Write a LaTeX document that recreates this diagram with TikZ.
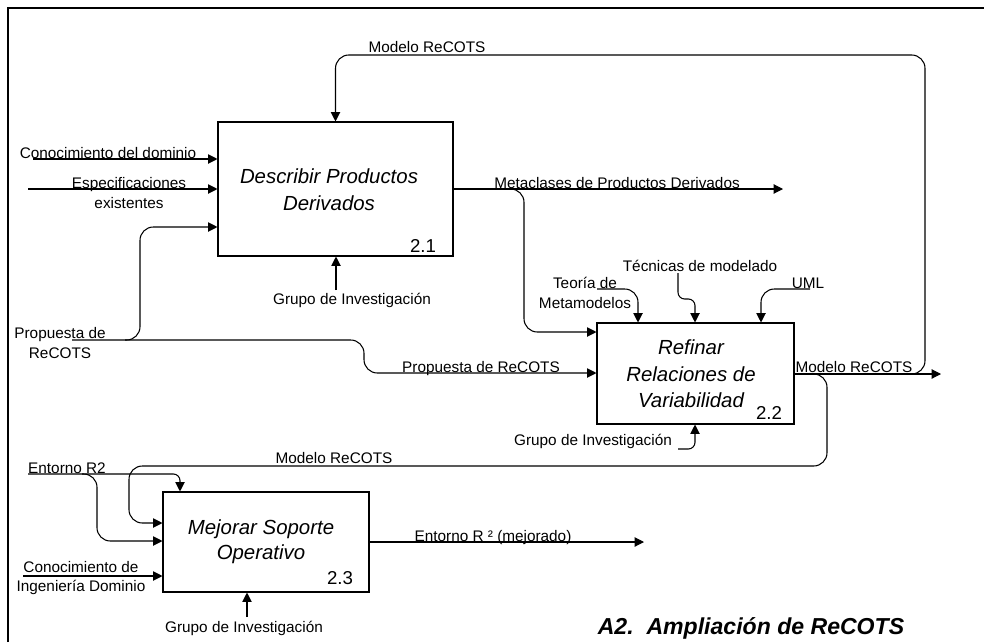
\documentclass[tikz,border=0pt]{standalone}
\usepackage{fontspec}
\setmainfont{Liberation Sans}
\usetikzlibrary{arrows.meta}
\begin{document}
\begin{tikzpicture}[x=0.75pt,y=-0.75pt,
 lbl/.style={font=\fontsize{11.5}{14.5}\selectfont, inner sep=0pt, align=center},
 procbox/.style={draw, line width=0.8pt, inner sep=0pt},
 proctext/.style={font=\fontsize{15.3}{20}\selectfont\itshape, align=center, inner sep=0pt},
 num/.style={font=\fontsize{14}{16}\selectfont, inner sep=0pt},
 ttl/.style={font=\fontsize{17.3}{20}\selectfont\bfseries\itshape, inner sep=0pt},
 frame/.style={line width=1.1pt},
 flow/.style={line width=0.8pt, rounded corners=10pt},
 flowsmall/.style={line width=0.8pt, rounded corners=5pt},
 arr/.style={-{Triangle[length=7pt,width=7pt]}},
]
\useasboundingbox (0,0) rectangle (984,642);
\draw[frame] (8,642) -- (8,8) -- (984,8);

% boxes
\node[procbox, minimum width=176.25pt, minimum height=100.5pt] (b21) at (335.5,189) {};
\node[proctext] (t21) at (329,190) {Describir Productos\\Derivados};
\node[num] (n21) at (423,246) {2.1};

\node[procbox, minimum width=147.75pt, minimum height=75.75pt] (b22) at (695.5,373.5) {};
\node[proctext] (t22) at (691,374) {Refinar\\Relaciones de\\Variabilidad};
\node[num] (n22) at (769,413) {2.2};

\node[procbox, minimum width=154.5pt, minimum height=75pt] (b23) at (266,542) {};
\node[proctext, font=\fontsize{15.3}{19}\selectfont\itshape] (t23) at (261,542) {Mejorar Soporte\\Operativo};
\node[num] (n23) at (340,578) {2.3};

% labels
\node[lbl, anchor=base] (lConDom) at (108,158) {Conocimiento del dominio};
\node[lbl] (lEsp) at (129,193) {Especificaciones\\existentes};
\node[lbl] (lProp) at (60,343) {Propuesta de\\ReCOTS};
\node[lbl] (lGrupo1) at (352,300) {Grupo de Investigación};
\node[lbl, anchor=base] (lMod1) at (427,53) {Modelo ReCOTS};
\node[lbl, anchor=base] (lMeta) at (617,188) {Metaclases de Productos Derivados};
\node[lbl] (lTeo) at (585,293) {Teoría de\\Metamodelos};
\node[lbl] (lTec) at (700,266) {Técnicas de modelado};
\node[lbl] (lUML) at (808,283) {UML};
\node[lbl, anchor=base] (lProp2) at (481,372) {Propuesta de ReCOTS};
\node[lbl] (lGrupo2) at (593,441) {Grupo de Investigación};
\node[lbl, anchor=base] (lMod2) at (854,372) {Modelo ReCOTS};
\node[lbl, anchor=base] (lMod3) at (334,463) {Modelo ReCOTS};
\node[lbl, anchor=base] (lEnt) at (67,473) {Entorno R2};
\node[lbl] (lConIng) at (81,578) {Conocimiento de\\Ingeniería Dominio};
\node[lbl] (lGrupo3) at (244,628) {Grupo de Investigación};
\node[lbl, anchor=base] (lEntOut) at (493,541) {Entorno R ² (mejorado)};
\node[ttl] (title) at (751,628) {A2.\ \ Ampliación de ReCOTS};

% connectors into 2.1
\coordinate (sCD) at (33,159);
\draw[flow,arr] (sCD) -- (sCD -| b21.west);
\coordinate (sEsp) at (28,189);
\draw[flow,arr] (sEsp) -- (sEsp -| b21.west);
\coordinate (sProp) at (72,340);
\coordinate (kProp) at (364,373);
\draw[flow,arr] (sProp) -| (kProp) -- (kProp -| b22.west);
\coordinate (jProp) at (125,340);
\coordinate (kProp2) at (140,227);
\draw[flow,arr] (jProp) -| (kProp2) -- (kProp2 -| b21.west);
\coordinate (gr1) at (336,290);
\draw[flow,arr] (gr1) -- (gr1 |- b21.south);

% outputs of 2.1
\coordinate (eMeta) at (783,189);
\draw[flow,arr] (b21.east |- eMeta) -- (eMeta);
\coordinate (jMeta) at (508,189);
\coordinate (kMeta) at (524,332);
\draw[flow,arr] (jMeta) -| (kMeta) -- (kMeta -| b22.west);

% controls of 2.2
\coordinate (sTeo) at (597,289);
\coordinate (kTeo) at (638,289);
\draw[flow,arr] (sTeo) -- (kTeo) -- (kTeo |- b22.north);
\coordinate (sTec) at (678,273);
\coordinate (kTec) at (695,299);
\draw[flowsmall,arr] (sTec) |- (kTec) -- (kTec |- b22.north);
\coordinate (sUML) at (810,289);
\coordinate (kUML) at (761,289);
\draw[flow,arr] (sUML) -- (kUML) -- (kUML |- b22.north);
\coordinate (sGr2) at (678,449);
\coordinate (kGr2) at (695,449);
\draw[flowsmall,arr] (sGr2) -- (kGr2) -- (kGr2 |- b22.south);

% outputs of 2.2
\coordinate (eMod) at (941,374);
\draw[flow,arr] (b22.east |- eMod) -- (eMod);
\coordinate (jMod1) at (911,374);
\coordinate (kMod1) at (925,55);
\draw[flow,arr] (jMod1) -| (kMod1) -| (b21.north);
\coordinate (jMod2) at (811,374);
\coordinate (kMod2) at (827,466);
\coordinate (kMod3) at (129,523);
\draw[flow,arr] (jMod2) -| (kMod2) -| (kMod3) -- (kMod3 -| b23.west);

% inputs of 2.3
\coordinate (sEnt) at (28,474);
\coordinate (kEnt) at (180,474);
\draw[flowsmall,arr] (sEnt) -- (kEnt) -- (kEnt |- b23.north);
\coordinate (jEnt) at (82,474);
\coordinate (kEnt2) at (97,541);
\draw[flow,arr] (jEnt) -| (kEnt2) -- (kEnt2 -| b23.west);
\coordinate (sCI) at (23,576);
\draw[flow,arr] (sCI) -- (sCI -| b23.west);
\coordinate (gr3) at (247,617);
\draw[flow,arr] (gr3) -- (gr3 |- b23.south);

% output of 2.3
\coordinate (eEnt) at (644,542);
\draw[flow,arr] (b23.east |- eEnt) -- (eEnt);
\end{tikzpicture}
\end{document}
